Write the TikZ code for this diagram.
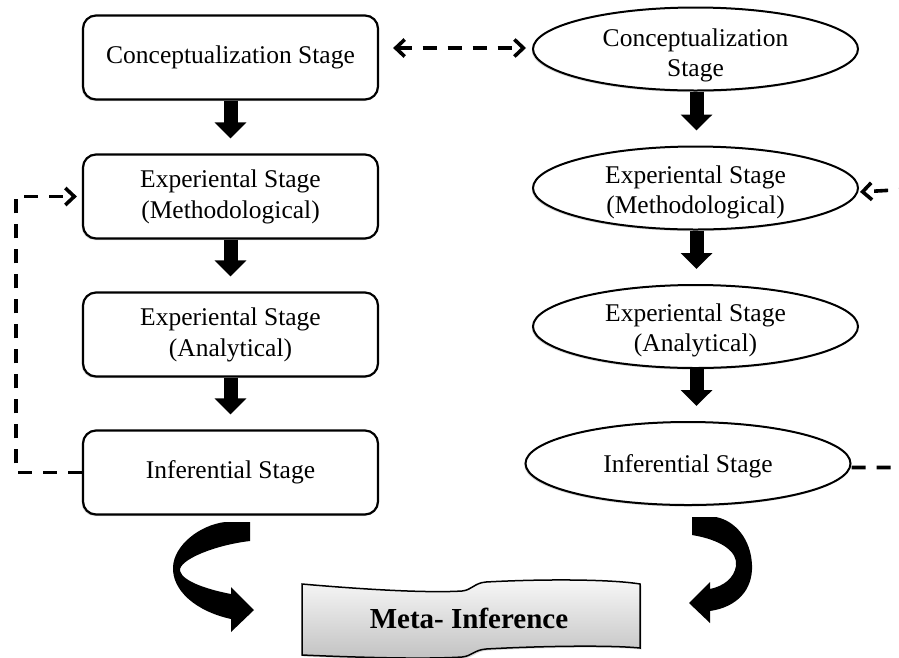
\documentclass[tikz,border=0pt]{standalone}
\usepackage{fontspec}
\setmainfont{Liberation Serif}
\usetikzlibrary{arrows.meta,shapes.geometric,shadows,calc}
\begin{document}
\begin{tikzpicture}[x=1pt,y=-1pt,
  softshadow/.style={drop shadow={shadow xshift=-1.2pt, shadow yshift=-1.6pt, opacity=0.3}},
  stagebox/.style={draw, line width=2.2pt, rounded corners=13pt, minimum width=295pt,
    minimum height=84pt, fill=white, align=center, inner sep=0pt,
    font=\fontsize{25.5}{31}\selectfont, softshadow},
  stageell/.style={draw, ellipse, line width=2pt, minimum width=325pt, minimum height=83pt,
    fill=white, inner sep=0pt, softshadow},
  stagetext/.style={align=center, inner sep=0pt, font=\fontsize{25.5}{30}\selectfont},
  blockarrow/.style={line width=14pt, -{Triangle[length=16pt,width=31pt]}, shorten >=15pt},
  dashline/.style={line width=3.6pt, dash pattern=on 14pt off 11pt,
    >={Straight Barb[length=9pt,width=17pt]}},
]
\useasboundingbox (0,0) rectangle (899,657);
\clip (0,0) rectangle (899,657);

% left column: rounded boxes
\node[stagebox] (b1) at (230.5,57.5) {Conceptualization Stage};
\node[stagebox] (b2) at (230.5,196.5) {Experiental Stage\\(Methodological)};
\node[stagebox] (b3) at (230.5,334.5) {Experiental Stage\\(Analytical)};
\node[stagebox] (b4) at (230.5,472.5) {Inferential Stage};

% right column: ellipses
\node[stageell] (e1) at (695.5,49) {};
\node[stageell] (e2) at (695.5,188) {};
\node[stageell] (e3) at (695.5,326.5) {};
\node[stageell] (e4) at (688,463.5) {};
\node[stagetext, yshift=-6pt] (e1t) at (e1) {Conceptualization\\Stage};
\node[stagetext, yshift=-4pt] (e2t) at (e2) {Experiental Stage\\(Methodological)};
\node[stagetext, yshift=-4pt] (e3t) at (e3) {Experiental Stage\\(Analytical)};
\node[stagetext, yshift=-3pt] (e4t) at (e4) {Inferential Stage};

% block arrows
\draw[blockarrow] (b1.south) -- (b2.north);
\draw[blockarrow] (b2.south) -- (b3.north);
\draw[blockarrow] (b3.south) -- (b4.north);
\draw[blockarrow] ([xshift=1pt]e1.south) -- ([xshift=1pt]e2.north);
\draw[blockarrow] ([xshift=1pt]e2.south) -- ([xshift=1pt]e3.north);
\draw[blockarrow] ([xshift=1pt]e3.south) -- ([xshift=8.5pt]e4.north);

% dashed connectors
\coordinate (leftrail) at (16,0);
\coordinate (rightrail) at (930,0);
\draw[dashline, <->, shorten <=14pt, shorten >=6pt]
  ([yshift=1pt]b1.east |- e1.west) -- ([yshift=1pt]e1.west);
\draw[dashline, ->, shorten >=5pt]
  (b4.west) -| (leftrail |- b2.west) -- (b2.west);
\draw[dashline, ->, shorten >=1pt]
  ([yshift=-4pt]e4.east) -| (rightrail |- e2.east) -- ([yshift=-4pt]e2.east);

% meta-inference banner
\shade[draw, line width=1.5pt, top color=gray!6, bottom color=gray!48,
  drop shadow={shadow xshift=1.5pt, shadow yshift=-1.5pt, opacity=0.3}]
  (302,584) .. controls (370,590) and (430,593) .. (462,591)
  .. controls (472,590) and (474,583) .. (486,582)
  .. controls (540,579) and (610,579) .. (640,584)
  -- (640,648)
  .. controls (610,645) and (540,646) .. (486,649)
  .. controls (474,650) and (472,656) .. (462,657)
  .. controls (430,659) and (370,658) .. (302,655) -- cycle;
\node[inner sep=0pt, font=\fontsize{29}{34}\selectfont\bfseries] (meta) at (469,618) {Meta- Inference};

% curved arrows
\fill (225,522) -- (250,522) -- (250,541)
  .. controls (215,545) and (178,560) .. (180,571)
  .. controls (183,582) and (210,590) .. (231,594)
  -- (231,587) -- (254,610) -- (231,632) -- (231,619)
  .. controls (195,611) and (172,590) .. (173,567)
  .. controls (174,545) and (200,525) .. (225,522) -- cycle;
\fill (716,517) -- (692,517) -- (692,535)
  .. controls (722,540) and (738,552) .. (736,566)
  .. controls (734,578) and (724,586) .. (710,589)
  -- (710,582) -- (689,603) -- (710,623) -- (710,611)
  .. controls (737,607) and (753,590) .. (752,565)
  .. controls (751,540) and (736,521) .. (716,517) -- cycle;
\end{tikzpicture}
\end{document}
